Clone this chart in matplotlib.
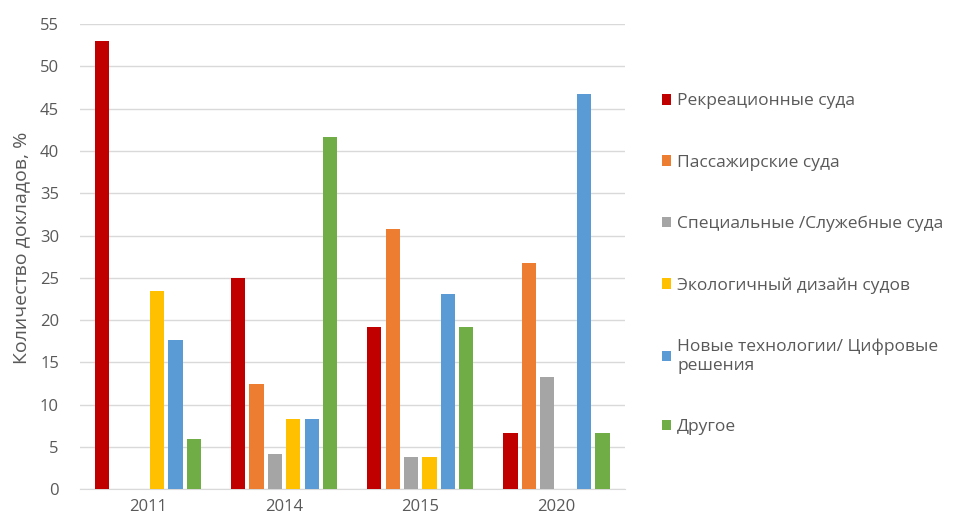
import numpy as np
import matplotlib
matplotlib.use("Agg")
import matplotlib.pyplot as plt

plt.rcParams['font.family'] = ['Open Sans', 'DejaVu Sans']

years = ["2011", "2014", "2015", "2020"]
series_names = [
    "Рекреационные суда",
    "Пассажирские суда",
    "Специальные /Служебные суда",
    "Экологичный дизайн судов",
    "Новые технологии/ Цифровые\nрешения",
    "Другое",
]
recreational = [53.0, 25.0, 19.2, 6.7]
passenger = [0.0, 12.5, 30.8, 26.7]
special = [0.0, 4.2, 3.8, 13.3]
eco_design = [23.5, 8.3, 3.8, 0.0]
new_tech = [17.6, 8.3, 23.1, 46.7]
other = [5.9, 41.7, 19.2, 6.7]
series = [recreational, passenger, special, eco_design, new_tech, other]
colors = ["#C00000", "#ED7D31", "#A5A5A5", "#FFC000", "#5B9BD5", "#70AD47"]

text_color = "#595959"

fig = plt.figure(figsize=(9.61, 5.26), dpi=100)
ax = fig.add_axes([0.083, 0.07, 0.567, 0.884])

x = np.arange(len(years))
slot = 0.135
bar_w = 0.105
for i, (vals, name, c) in enumerate(zip(series, series_names, colors)):
    offs = (i - 2.5) * slot
    ax.bar(x + offs, vals, width=bar_w, color=c, label=name, zorder=3)

ax.set_xlim(-0.5, 3.5)
ax.set_ylim(0, 55)
ax.set_yticks(range(0, 56, 5))
ax.set_xticks(x)
ax.set_xticklabels(years)
ax.grid(axis="y", color="#D9D9D9", linewidth=1, zorder=0)
for s in ["top", "right", "left"]:
    ax.spines[s].set_visible(False)
ax.spines["bottom"].set_color("#D9D9D9")
ax.tick_params(axis="both", length=0, colors=text_color, labelsize=12)
ax.tick_params(axis="y", pad=15)
ax.tick_params(axis="x", pad=7)
ax.set_ylabel("Количество докладов, %", color=text_color, fontsize=14)
ax.yaxis.set_label_coords(-0.09, 0.52)

leg = ax.legend(loc="upper left", bbox_to_anchor=(1.055, 0.866), frameon=False,
                fontsize=12.5, handlelength=0.55, handleheight=0.55, handletextpad=0.35,
                labelspacing=2.6, borderaxespad=0)
for t in leg.get_texts():
    t.set_color(text_color)

fig.savefig("out.png", dpi=100)
